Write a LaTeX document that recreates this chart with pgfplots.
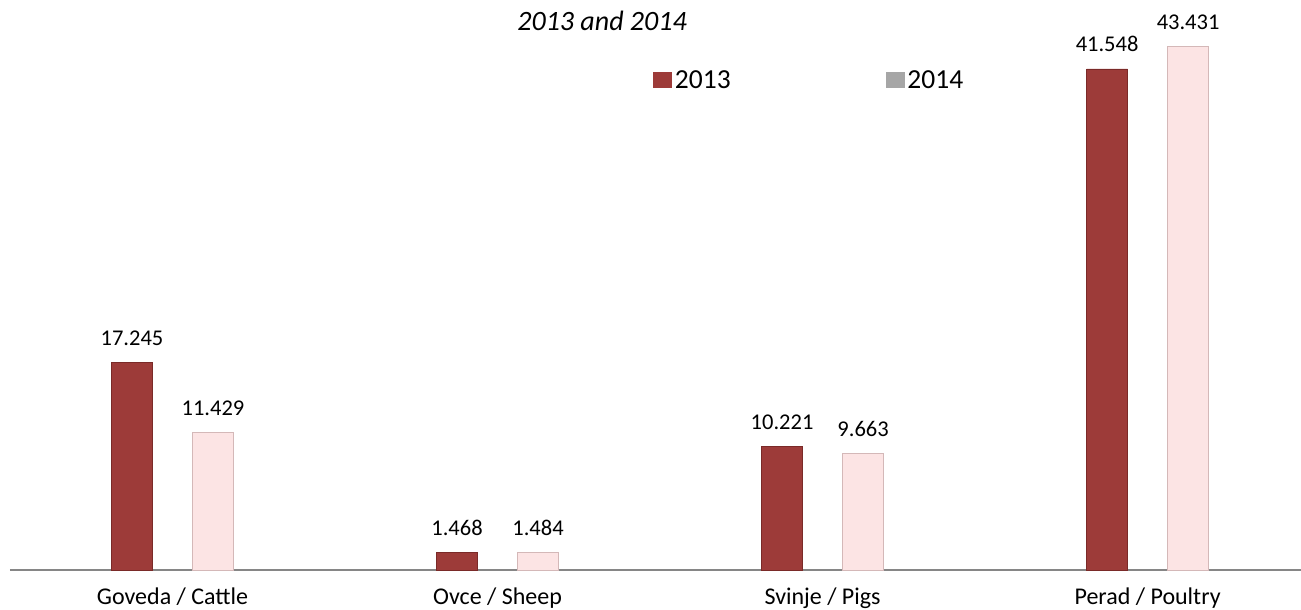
\documentclass[border=0pt]{standalone}
\usepackage{pgfplots}
\pgfplotsset{compat=1.18}
\usepackage{fontspec}
\setmainfont{Carlito}
\definecolor{bar13}{HTML}{9D3B39}
\definecolor{edge13}{HTML}{7A2A28}
\definecolor{bar14}{HTML}{FCE4E4}
\definecolor{edge14}{HTML}{D4B8B8}
\definecolor{leg14}{HTML}{A6A6A6}
\definecolor{axisgray}{HTML}{868686}
\begin{document}
\begin{tikzpicture}
\begin{axis}[
  at={(10pt,40pt)}, anchor=south west,
  scale only axis, width=1291pt, height=566.8pt,
  xmin=-0.5, xmax=3.472, ymin=0, ymax=47,
  axis x line*=bottom, axis y line=none,
  x axis line style={draw=axisgray, line width=2.5pt},
  xtick={0,1,2,3},
  xticklabels={Goveda / Cattle, Ovce / Sheep, Svinje / Pigs, Perad / Poultry},
  major tick length=0pt,
  xticklabel style={anchor=base, yshift=-35pt, inner sep=0pt, font=\fontsize{24}{28}\selectfont},
  ybar=40pt, bar width=41pt,
  point meta=explicit symbolic,
  nodes near coords,
  every node near coord/.append style={font=\fontsize{22.5}{26}\selectfont, anchor=base, yshift=17pt, inner sep=0pt},
  clip=false,
  legend columns=2,
  legend style={at={(0.498,0.8645)}, anchor=west, draw=none, fill=none, inner sep=0pt,
    font=\fontsize{27.5}{30}\selectfont,
    nodes={inner xsep=3pt, inner ysep=2pt},
    /tikz/every even column/.append style={column sep=152pt}},
]
\addplot[fill=bar13, draw=edge13, line width=0.8pt,
  legend image code/.code={\fill[bar13] (0pt,-7.5pt) rectangle (18pt,7.5pt);}]
  coordinates {(0,17.245) [17.245] (1,1.468) [1.468] (2,10.221) [10.221] (3,41.548) [41.548]};
\addplot[fill=bar14, draw=edge14, line width=0.8pt,
  legend image code/.code={\fill[leg14] (0pt,-7.5pt) rectangle (18pt,7.5pt);}]
  coordinates {(0,11.429) [11.429] (1,1.484) [1.484] (2,9.663) [9.663] (3,43.431) [43.431]};
\legend{2013,2014}
\node[font=\itshape\fontsize{28}{32}\selectfont] at (rel axis cs:0.4586,0.9686) {2013 and 2014};
\end{axis}
\pgfresetboundingbox
\useasboundingbox (0,0) rectangle (1301pt,610pt);
\end{tikzpicture}
\end{document}
